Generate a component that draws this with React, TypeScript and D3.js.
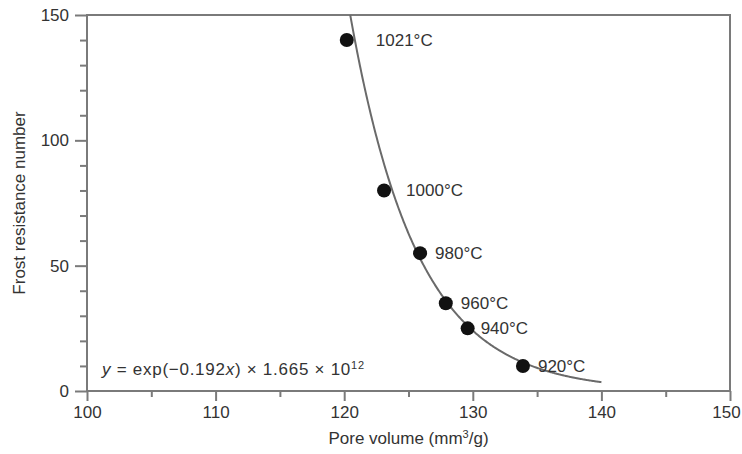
import React, { useEffect, useRef } from "react";
import * as d3 from "d3";

// firing temperatures and measured samples
const temps = ["1021°C", "1000°C", "980°C", "960°C", "940°C", "920°C"];
const poreVolume = [120.2, 123.1, 125.9, 127.9, 129.6, 133.9];
const frostNumber = [140, 80, 55, 35, 25, 10];

// fitted curve y = exp(a*x) * b
const fitA = -0.192;
const fitB = 1.665e12;
const fitRange = [120.47, 140];

const xTicks = [100, 110, 120, 130, 140, 150];
const yTicks = [0, 50, 100, 150];

// label offsets (px) to the right of each point
const labelDx = [29, 22, 15, 15, 13, 15];

const W = 742;
const H = 454;
const margin = { top: 15, right: 12, bottom: 63, left: 87 };

const App = () => {
  const svgRef = useRef<SVGSVGElement>(null);

  useEffect(() => {
    const svg = d3.select(svgRef.current);
    svg.selectAll("*").remove();

    const x = d3.scaleLinear().domain([100, 150]).range([margin.left, W - margin.right]);
    const y = d3.scaleLinear().domain([0, 150]).range([H - margin.bottom, margin.top]);

    const axisColor = "#7a7a7a";
    const textColor = "#333";
    const font = "'Liberation Sans', Arial, sans-serif";

    // frame
    svg
      .append("rect")
      .attr("x", x(100))
      .attr("y", y(150))
      .attr("width", x(150) - x(100))
      .attr("height", y(0) - y(150))
      .attr("fill", "none")
      .attr("stroke", axisColor)
      .attr("stroke-width", 2);

    // x axis
    const gx = svg
      .append("g")
      .attr("transform", `translate(0,${y(0)})`)
      .call(
        d3.axisBottom(x).tickValues(d3.range(100, 151, 5)).tickSize(7).tickFormat((d) =>
          xTicks.includes(d as number) ? String(d) : ""
        )
      );
    gx.select(".domain").remove();
    gx.selectAll(".tick line")
      .attr("stroke", axisColor)
      .attr("stroke-width", 2)
      .attr("y2", (d) => (xTicks.includes(d as number) ? 10 : 6));
    gx.selectAll(".tick text")
      .attr("y", 15)
      .attr("dy", "0.71em")
      .attr("dx", (d) => ((d as number) === 150 ? -4 : 0))
      .style("font-family", font)
      .style("font-size", "17px")
      .style("fill", textColor);

    // y axis
    const gy = svg
      .append("g")
      .attr("transform", `translate(${x(100)},0)`)
      .call(
        d3.axisLeft(y).tickValues(d3.range(0, 151, 10)).tickSize(7).tickFormat((d) =>
          yTicks.includes(d as number) ? String(d) : ""
        )
      );
    gy.select(".domain").remove();
    gy.selectAll(".tick line")
      .attr("stroke", axisColor)
      .attr("stroke-width", 2)
      .attr("x2", (d) => (yTicks.includes(d as number) ? -12 : -7));
    gy.selectAll(".tick text")
      .attr("x", -18)
      .style("font-family", font)
      .style("font-size", "17px")
      .style("fill", textColor);

    // axis titles
    const xt = svg
      .append("text")
      .attr("x", (x(100) + x(150)) / 2)
      .attr("y", 444)
      .attr("text-anchor", "middle")
      .style("font-family", font)
      .style("font-size", "17px")
      .style("fill", textColor);
    xt.append("tspan").text("Pore volume (mm");
    xt.append("tspan").attr("dy", -6).style("font-size", "11px").text("3");
    xt.append("tspan").attr("dy", 6).text("/g)");

    svg
      .append("text")
      .attr("transform", `translate(25,${(y(0) + y(150)) / 2}) rotate(-90)`)
      .attr("text-anchor", "middle")
      .style("font-family", font)
      .style("font-size", "17px")
      .style("fill", textColor)
      .text("Frost resistance number");

    // fit curve
    const fitX = d3.range(fitRange[0], fitRange[1], 0.05).concat([fitRange[1]]);
    const line = d3
      .line<number>()
      .x((d) => x(d))
      .y((d) => y(Math.exp(fitA * d) * fitB));
    svg
      .append("path")
      .attr("d", line(fitX))
      .attr("fill", "none")
      .attr("stroke", "#6a6a6a")
      .attr("stroke-width", 2);

    // points
    const pts = temps.map((t, i) => ({ t, px: poreVolume[i], fr: frostNumber[i], dx: labelDx[i] }));
    svg
      .selectAll("circle.pt")
      .data(pts)
      .enter()
      .append("circle")
      .attr("class", "pt")
      .attr("cx", (d) => x(d.px))
      .attr("cy", (d) => y(d.fr))
      .attr("r", 7)
      .attr("fill", "#111");

    svg
      .selectAll("text.lbl")
      .data(pts)
      .enter()
      .append("text")
      .attr("class", "lbl")
      .attr("x", (d) => x(d.px) + d.dx)
      .attr("y", (d) => y(d.fr) + 6)
      .style("font-family", font)
      .style("font-size", "17px")
      .style("fill", textColor)
      .text((d) => d.t);

    // equation
    const eq = svg
      .append("text")
      .attr("x", 102)
      .attr("y", 375)
      .attr("textLength", 262)
      .attr("lengthAdjust", "spacing")
      .style("font-family", font)
      .style("font-size", "17px")
      .style("fill", textColor);
    eq.append("tspan").style("font-style", "italic").text("y");
    eq.append("tspan").text(" = exp(−0.192");
    eq.append("tspan").style("font-style", "italic").text("x");
    eq.append("tspan").text(")  ×  1.665  ×  10");
    eq.append("tspan").attr("dy", -6).style("font-size", "11px").text("12");
  }, []);

  return (
    <svg
      ref={svgRef}
      width={W}
      height={H}
      style={{ position: "absolute", left: 0, top: 0, background: "#fff" }}
    />
  );
};

export default App;
